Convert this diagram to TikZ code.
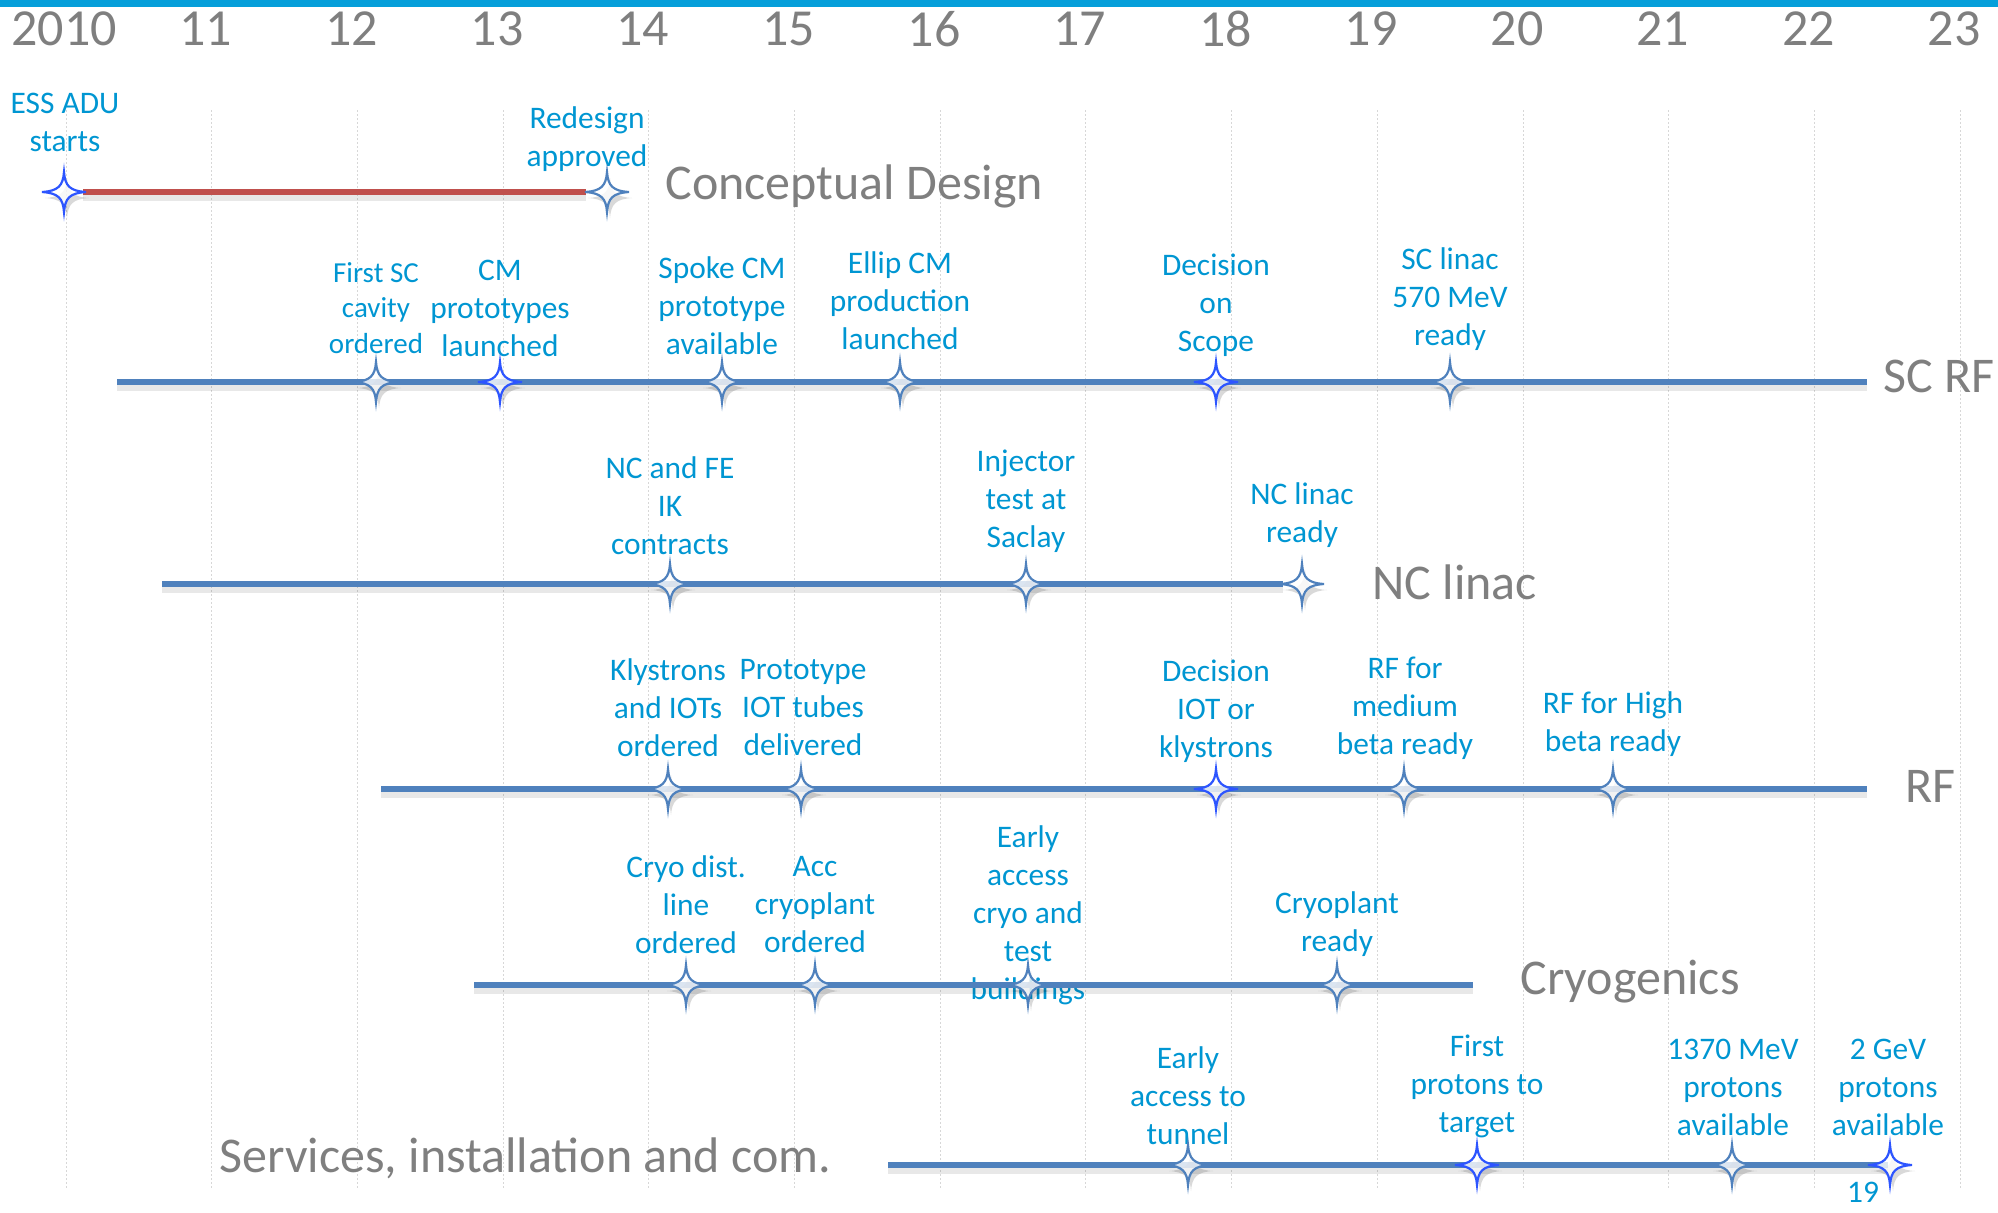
\documentclass[tikz,border=0pt]{standalone}
\usepackage{fontspec}
\setmainfont{Carlito}

\definecolor{topbar}{RGB}{5,159,218}
\definecolor{labelblue}{RGB}{0,150,210}
\definecolor{titlegray}{RGB}{127,127,127}
\definecolor{trackblue}{RGB}{79,129,189}
\definecolor{trackred}{RGB}{192,80,77}
\definecolor{starbright}{RGB}{45,85,255}
\definecolor{gridgray}{RGB}{215,215,215}

\tikzset{
  year/.style={text=titlegray, font=\fontsize{26}{30}\selectfont, inner sep=0pt},
  rowtitle/.style={text=titlegray, font=\fontsize{25}{30}\selectfont, anchor=west, inner sep=0pt},
  event/.style={text=labelblue, font=\fontsize{15.7}{19}\selectfont, align=center, inner sep=0pt},
  smallevent/.style={event, font=\fontsize{14.5}{17.8}\selectfont},
  gridline/.style={gridgray, line width=0.5pt, dash pattern=on 1pt off 1pt},
  track/.style={draw=trackblue, line width=2.75pt,
    preaction={draw=black, draw opacity=0.09, line width=4pt, transform canvas={yshift=-2.5pt}}},
  redtrack/.style={track, draw=trackred, line width=3pt},
  mstar/.pic={
    \fill[black, opacity=0.15, shift={(3,6)}] (22,0) .. controls (6,1) and (1,6) .. (0,20)
      .. controls (-1,6) and (-6,1) .. (-22,0) .. controls (-6,-1) and (-1,-6) .. (0,-20)
      .. controls (1,-6) and (6,-1) .. (22,0) -- cycle;
    \filldraw[draw=#1, fill=white, fill opacity=0.8, line width=1.1pt] (22,0) .. controls (6,1) and (1,6) .. (0,20)
      .. controls (-1,6) and (-6,1) .. (-22,0) .. controls (-6,-1) and (-1,-6) .. (0,-20)
      .. controls (1,-6) and (6,-1) .. (22,0) -- cycle;
  },
}

\begin{document}
\begin{tikzpicture}[x=0.5pt, y=-0.5pt]
    \useasboundingbox (0,0) rectangle (1998,1212);

    % Draw grid and years
    \foreach \k in {0,...,13}
        \draw[gridline] ({66+145.7*\k},110) -- ({66+145.7*\k},1190);
    \fill[topbar] (0,0) rectangle (1998,7);
    \node[year] (y0) at (64,29) {2010};
    \foreach \yr [count=\k] in {11,12,13,14,15,16,17,18,19,20,21,22,23}
        \node[year] (y\k) at ({60+145.7*\k},29) {\yr};

    % Draw milestone labels
    \node[event] (ess-lbl) at (65,122) {ESS ADU\\starts};
    \node[event] (redesign-lbl) at (587,139) {Redesign\\approved};

    \node[smallevent] (firstsc-lbl) at (376,308) {First SC\\cavity\\ordered};
    \node[event] (cmproto-lbl) at (500,308) {CM\\prototypes\\launched};
    \node[event] (spoke-lbl) at (722,306) {Spoke CM\\prototype\\available};
    \node[event] (ellip-lbl) at (900,301) {Ellip CM\\production\\launched};
    \node[event] (scope-lbl) at (1216,305) {Decision\\on\\Scope};
    \node[event] (sclinac-lbl) at (1450,299) {SC linac\\570 MeV\\ready};

    \node[event] (ncfe-lbl) at (670,506) {NC and FE\\IK\\contracts};
    \node[event] (injector-lbl) at (1026,501) {Injector\\test at\\Saclay};
    \node[event] (nclinac-lbl) at (1302,515) {NC linac\\ready};

    \node[event] (klystrons-lbl) at (668,708) {Klystrons\\and IOTs\\ordered};
    \node[event] (iottubes-lbl) at (803,708) {Prototype\\IOT tubes\\delivered};
    \node[event] (decision-lbl) at (1216,711) {Decision\\IOT or\\klystrons};
    \node[event] (medium-lbl) at (1405,708) {RF for\\medium\\beta ready};
    \node[event] (high-lbl) at (1613,724) {RF for High\\beta ready};

    \node[event] (cryodist-lbl) at (686,905) {Cryo dist.\\line\\ordered};
    \node[event] (acc-lbl) at (815,905) {Acc\\cryoplant\\ordered};
    \node[event] (earlycryo-lbl) at (1028,915) {Early\\access\\cryo and\\test\\buildings};
    \node[event] (cryoready-lbl) at (1337,924) {Cryoplant\\ready};

    \node[event] (tunnel-lbl) at (1188,1096) {Early\\access to\\tunnel};
    \node[event] (firstprot-lbl) at (1477,1086) {First\\protons to\\target};
    \node[event] (mev-lbl) at (1733,1087) {1370 MeV\\protons\\available};
    \node[event] (gev-lbl) at (1888,1087) {2 GeV\\protons\\available};
    \node[event] (nineteen) at (1863,1192) {19};

    % Track end points
    \coordinate (scrf-start) at (117,382);
    \coordinate (scrf-end) at (1867,382);
    \coordinate (nc-start) at (162,584);
    \coordinate (rf-start) at (381,789);
    \coordinate (rf-end) at (1867,789);
    \coordinate (cryo-start) at (474,985);
    \coordinate (cryo-end) at (1473,985);
    \coordinate (serv-start) at (888,1165);

    % Milestone positions
    \coordinate (ess) at (64,192);
    \coordinate (redesign) at (607,192);
    \coordinate (nclinac) at (1302,584);
    \coordinate (gev) at (1890,1165);

    % Draw tracks
    \draw[redtrack, shorten <=9.5pt, shorten >=10.5pt] (ess) -- (redesign);
    \draw[track] (scrf-start) -- (scrf-end);
    \draw[track, shorten >=9.5pt] (nc-start) -- (nclinac);
    \draw[track] (rf-start) -- (rf-end);
    \draw[track] (cryo-start) -- (cryo-end);
    \draw[track, shorten >=1pt] (serv-start) -- (gev);

    % Draw milestones
    \pic at (ess) {mstar=starbright};
    \pic at (redesign) {mstar=trackblue};

    \path (376,382) coordinate (firstsc) pic {mstar=trackblue};
    \path (500,382) coordinate (cmproto) pic {mstar=starbright};
    \path (722,382) coordinate (spoke) pic {mstar=trackblue};
    \path (900,382) coordinate (ellip) pic {mstar=trackblue};
    \path (1216,382) coordinate (scope) pic {mstar=starbright};
    \path (1450,382) coordinate (sclinac) pic {mstar=trackblue};

    \path (670,584) coordinate (ncfe) pic {mstar=trackblue};
    \path (1026,584) coordinate (injector) pic {mstar=trackblue};
    \pic at (nclinac) {mstar=trackblue};

    \path (668,789) coordinate (klystrons) pic {mstar=trackblue};
    \path (801,789) coordinate (iottubes) pic {mstar=trackblue};
    \path (1216,789) coordinate (decision) pic {mstar=starbright};
    \path (1404,789) coordinate (medium) pic {mstar=trackblue};
    \path (1613,789) coordinate (high) pic {mstar=trackblue};

    \path (686,985) coordinate (cryodist) pic {mstar=trackblue};
    \path (815,985) coordinate (acc) pic {mstar=trackblue};
    \path (1028,985) coordinate (earlycryo) pic {mstar=trackblue};
    \path (1337,985) coordinate (cryoready) pic {mstar=trackblue};

    \path (1188,1165) coordinate (tunnel) pic {mstar=trackblue};
    \path (1477,1165) coordinate (firstprot) pic {mstar=starbright};
    \path (1732,1165) coordinate (mev) pic {mstar=trackblue};
    \pic at (gev) {mstar=starbright};

    % Draw row titles
    \node[rowtitle] (concept) at (665,186) {Conceptual Design};
    \node[rowtitle] (scrf) at (1883,376) {SC RF};
    \node[rowtitle] (nc) at (1372,582) {NC linac};
    \node[rowtitle] (rf) at (1905,786) {RF};
    \node[rowtitle] (cryo) at (1520,982) {Cryogenics};
    \node[rowtitle] (serv) at (219,1158) {Services, installation and com.};
\end{tikzpicture}
\end{document}
